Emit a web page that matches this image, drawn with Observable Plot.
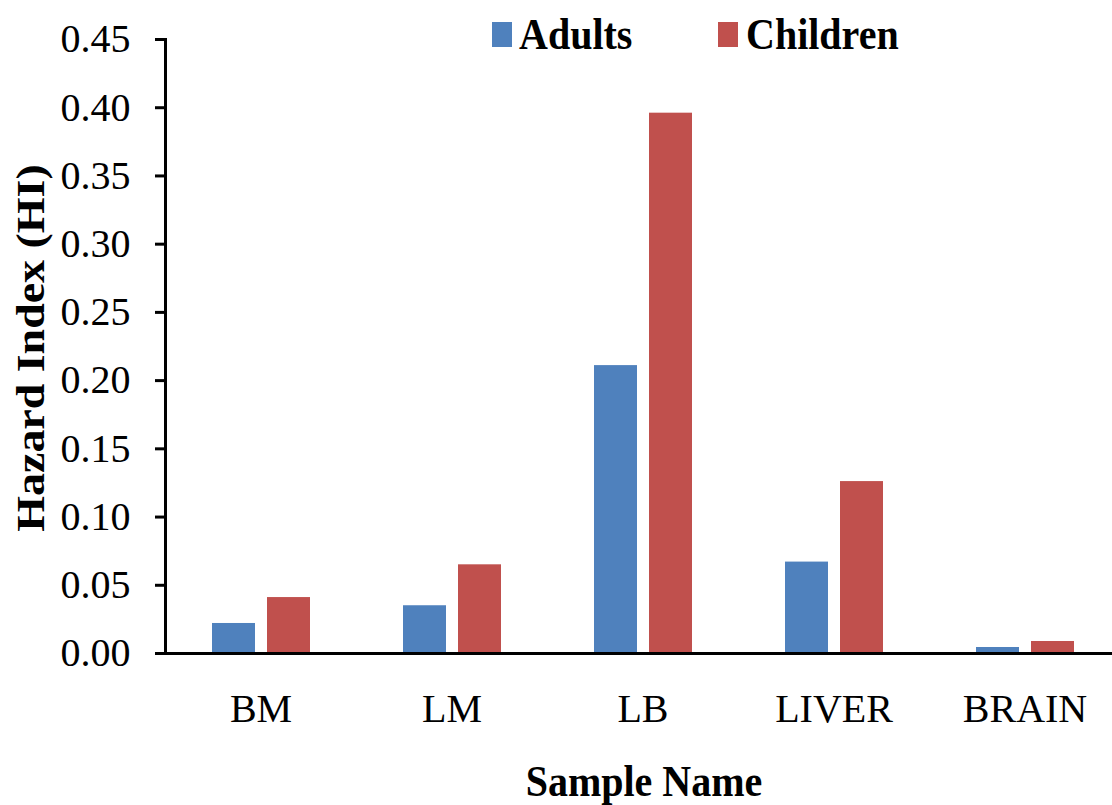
<!DOCTYPE html>
<html><head><meta charset="utf-8">
<script src="https://cdn.jsdelivr.net/npm/d3@7"></script>
<script src="https://cdn.jsdelivr.net/npm/@observablehq/plot@0.6"></script>
<style>
html,body{margin:0;padding:0;overflow:hidden;background:#fff}
#wrap{position:relative;width:1112px;height:805px;overflow:hidden}
#wrap svg{max-width:none !important}
.serif{font-family:'Liberation Serif','Times New Roman',serif;color:#000}
.ytitle{position:absolute;left:30px;top:348px;transform:translate(-50%,-50%) rotate(-90deg) scaleX(1.12);white-space:nowrap;font-weight:bold;font-size:41px}
.xtitle{position:absolute;left:644px;top:781px;transform:translate(-50%,-50%) scaleY(1.1);white-space:nowrap;font-weight:bold;font-size:40px}
.sw{position:absolute;width:20px;height:25px}
.lt{position:absolute;font-weight:bold;font-size:40px;line-height:1;transform:translateY(-50%) scaleY(1.1)}
</style></head>
<body><div id="wrap"></div>
<script>
const categories = ["BM", "LM", "LB", "LIVER", "BRAIN"];
const series = ["Adults", "Children"];
const adults = [0.022, 0.035, 0.211, 0.067, 0.0044];
const children = [0.041, 0.065, 0.396, 0.126, 0.0088];
const yTicks = [0, 0.05, 0.10, 0.15, 0.20, 0.25, 0.30, 0.35, 0.40, 0.45];
const colors = ["#4F81BD", "#C0504D"];
const yTitle = "Hazard Index (HI)";
const xTitle = "Sample Name";

const data = categories.flatMap((c, i) => [
  {sample: c, group: series[0], value: adults[i]},
  {sample: c, group: series[1], value: children[i]}
]);

const plot = Plot.plot({
  width: 1120, height: 805,
  marginTop: 39, marginBottom: 152, marginLeft: 165, marginRight: 0,
  style: {fontFamily: "'Liberation Serif','Times New Roman',serif", fontSize: "40px", color: "#000", background: "#fff", maxWidth: "none"},
  fx: {domain: categories, padding: 0, label: null},
  x: {domain: series, paddingInner: 0.22, paddingOuter: 0.846, axis: null},
  y: {domain: [0, 0.45]},
  color: {domain: series, range: colors},
  marks: [
    Plot.barY(data, {fx: "sample", x: "group", y: "value", fill: "group"}),
    Plot.ruleY([0], {stroke: "#000", strokeWidth: 3}),
    Plot.frame({anchor: "left", facetAnchor: "left", stroke: "#000", strokeWidth: 3}),
    Plot.axisY({ticks: yTicks, tickFormat: d3.format(".2f"), tickSize: 10, tickPadding: 25, strokeWidth: 3, label: null}),
    Plot.axisFx({anchor: "bottom", tickSize: 0, tickPadding: 40, label: null})
  ]
});

const wrap = document.getElementById("wrap");
wrap.appendChild(plot);

function addDiv(cls, text, styles) {
  const d = document.createElement("div");
  d.className = cls + " serif";
  if (text) d.textContent = text;
  Object.assign(d.style, styles || {});
  wrap.appendChild(d);
}
addDiv("ytitle", yTitle);
addDiv("xtitle", xTitle);
// legend
const legendX = [[492, 519], [718, 746]];
series.forEach((s, i) => {
  addDiv("sw", "", {left: legendX[i][0] + "px", top: "22px", background: colors[i]});
  addDiv("lt", s, {left: legendX[i][1] + "px", top: "35px"});
});
</script>
</body></html>
